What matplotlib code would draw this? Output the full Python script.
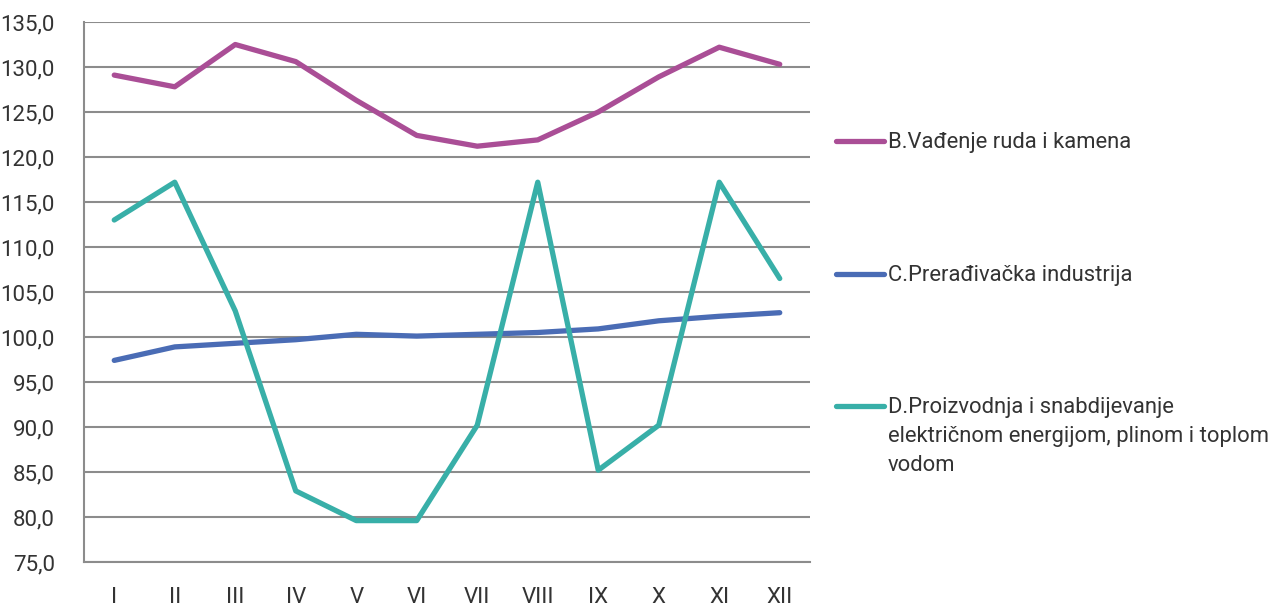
import matplotlib.pyplot as plt
from matplotlib.lines import Line2D

months = ["I", "II", "III", "IV", "V", "VI", "VII", "VIII", "IX", "X", "XI", "XII"]
vadjenje = [129.1, 127.8, 132.5, 130.6, 126.3, 122.4, 121.2, 121.9, 125.0, 128.9, 132.2, 130.3]
preradjivacka = [97.4, 98.9, 99.3, 99.7, 100.3, 100.1, 100.3, 100.5, 100.9, 101.8, 102.3, 102.7]
energija = [113.0, 117.2, 102.9, 82.9, 79.6, 79.6, 90.2, 117.2, 85.2, 90.2, 117.2, 106.5]

labels = [
    "B.Vađenje ruda i kamena",
    "C.Prerađivačka industrija",
    "D.Proizvodnja i snabdijevanje\nelektričnom energijom, plinom i toplom\nvodom",
]
colors = ["#AA4E96", "#4A6CB5", "#38AFA8"]
yticks = [75, 80, 85, 90, 95, 100, 105, 110, 115, 120, 125, 130, 135]

plt.rcParams["font.family"] = ["Roboto", "DejaVu Sans"]
text_color = "#333333"
grid_color = "#8c8c8c"

W, H = 1278, 606
fig = plt.figure(figsize=(W / 100, H / 100), dpi=100)
ax = fig.add_axes([84 / W, 1 - 562 / H, (810 - 84) / W, (562 - 22) / H])

x = range(len(months))
for series, c in zip([vadjenje, preradjivacka, energija], colors):
    ax.plot(x, series, color=c, linewidth=3.8, solid_capstyle="round",
            solid_joinstyle="round", zorder=3)

ax.set_xlim(-0.5, len(months) - 0.5)
ax.set_ylim(75, 135)
ax.set_yticks(yticks)
ax.set_yticklabels([f"{v:.1f}".replace(".", ",") for v in yticks])
ax.set_xticks(list(x))
ax.set_xticklabels(months)
ax.tick_params(axis="both", length=0, labelsize=16, labelcolor=text_color)
ax.tick_params(axis="y", pad=21)
ax.tick_params(axis="x", pad=18)

ax.grid(axis="y", color=grid_color, linewidth=1.5, zorder=1)
for side in ["top", "right"]:
    ax.spines[side].set_visible(False)
for side in ["left", "bottom"]:
    ax.spines[side].set_color(grid_color)
    ax.spines[side].set_linewidth(1.5)

# legend drawn by hand: handle aligned with first text line
legend_y = [141, 274, 406]
for lab, c, ly in zip(labels, colors, legend_y):
    yf = 1 - ly / H
    fig.add_artist(Line2D([836 / W, 884 / W], [yf, yf], color=c, linewidth=3.8,
                          solid_capstyle="round"))
    fig.text(888 / W, 1 - (ly - 9) / H, lab, fontsize=15.8,
             color=text_color, va="top", ha="left", linespacing=1.5)

fig.savefig("out.png", dpi=100)
